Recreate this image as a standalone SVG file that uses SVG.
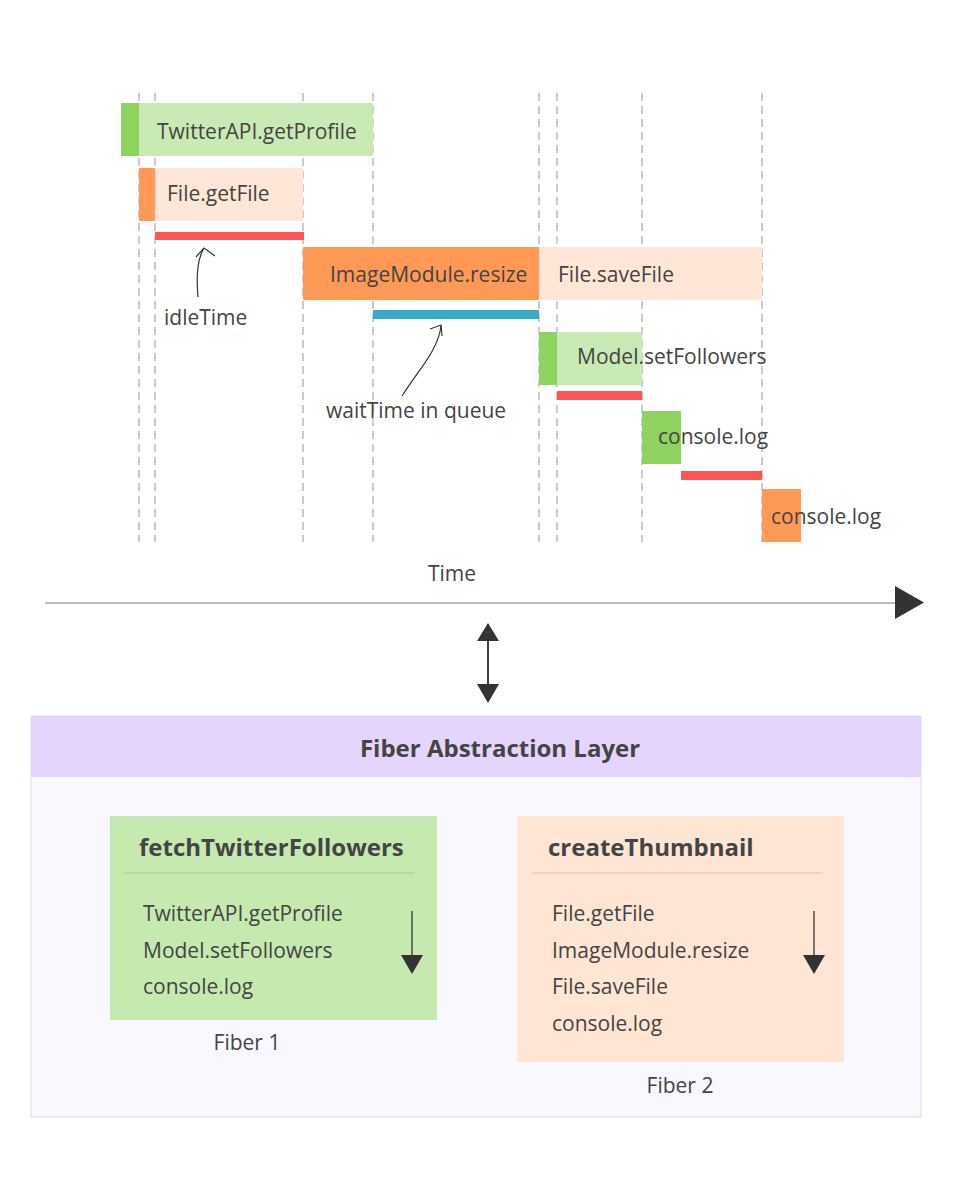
<svg xmlns="http://www.w3.org/2000/svg" width="954" height="1182" viewBox="0 0 954 1182">
<style>
text{font-family:"Open Sans","Liberation Sans",sans-serif;fill:#444;}
.t{font-size:21px;}
.b{font-weight:bold;font-size:24px;}
.dash{stroke:#aaa;stroke-width:1.2;stroke-dasharray:8 5;fill:none;}
.gd{fill:#8ed260;}.gl{fill:#c6e9b0;}.od{fill:#ff9955;}.ol{fill:#ffe5d4;}.r{fill:#ff5555;}.bl{fill:#38abc8;}
.ann{stroke:#333;stroke-width:1.2;fill:none;}
</style>
<rect width="954" height="1182" fill="#fff"/>
<g id="gridlines">
<line class="dash" x1="139" y1="93" x2="139" y2="542"/>
<line class="dash" x1="155" y1="93" x2="155" y2="542"/>
<line class="dash" x1="303" y1="93" x2="303" y2="542"/>
<line class="dash" x1="373" y1="93" x2="373" y2="542"/>
<line class="dash" x1="539" y1="93" x2="539" y2="542"/>
<line class="dash" x1="557" y1="93" x2="557" y2="542"/>
<line class="dash" x1="642" y1="93" x2="642" y2="542"/>
<line class="dash" x1="762" y1="93" x2="762" y2="542"/>
</g>
<g id="bar-getProfile">
<rect class="gl" x="139" y="103" width="234" height="53" opacity="0.95"/>
<rect class="gd" x="121" y="103" width="18" height="53"/>
<text class="t" x="157" y="139">TwitterAPI.getProfile</text>
</g>
<g id="bar-getFile">
<rect class="ol" x="155" y="168" width="148" height="53" opacity="0.95"/>
<rect class="od" x="139" y="168" width="16" height="53"/>
<text class="t" x="167" y="201">File.getFile</text>
</g>
<g id="idle1"><rect class="r" x="155" y="232" width="149" height="8"/></g>
<g id="bar-resize">
<rect class="od" x="303" y="247" width="236" height="53"/>
<text class="t" x="330" y="282">ImageModule.resize</text>
</g>
<g id="bar-saveFile">
<rect class="ol" x="539" y="247" width="223" height="53" opacity="0.95"/>
<text class="t" x="558" y="282">File.saveFile</text>
</g>
<g id="wait"><rect class="bl" x="373" y="310" width="166" height="9"/></g>
<g id="bar-setFollowers">
<rect class="gl" x="557" y="332" width="85" height="53" opacity="0.95"/>
<rect class="gd" x="539" y="332" width="18" height="53"/>
<text class="t" x="577" y="364">Model.setFollowers</text>
</g>
<g id="idle2"><rect class="r" x="557" y="391" width="85" height="9"/></g>
<g id="bar-log1">
<rect class="gd" x="642" y="411" width="39" height="53"/>
<text class="t" x="658" y="444">console.log</text>
</g>
<g id="idle3"><rect class="r" x="681" y="471" width="81" height="9"/></g>
<g id="bar-log2">
<rect class="od" x="762" y="489" width="39" height="53"/>
<text class="t" x="771" y="524">console.log</text>
</g>
<g id="annotations">
<path class="ann" d="M198,297 C196,276 198,258 204,248"/>
<path class="ann" d="M196,257 L204,248 L215,256"/>
<text class="t" x="164" y="325">idleTime</text>
<path class="ann" d="M402,396 C420,368 438,350 441,326"/>
<path class="ann" d="M430,329 L441,325 L442,336"/>
<text class="t" x="326" y="418">waitTime in queue</text>
</g>
<g id="connectors">
<line x1="45" y1="603" x2="896" y2="603" stroke="#bbb" stroke-width="2"/>
<path d="M895,586 L924,602.5 L895,619 z" fill="#333"/>
<line x1="488" y1="640" x2="488" y2="685" stroke="#444" stroke-width="2"/>
<path d="M477,641 L488,623 L499,641 z" fill="#333"/>
<path d="M477,684 L488,703 L499,684 z" fill="#333"/>
</g>
<text class="t" x="452" y="581" text-anchor="middle">Time</text>
<g id="layer">
<rect x="31" y="716" width="890" height="401" fill="#f8f8fe" stroke="#ddd" stroke-width="1"/>
<rect x="31" y="716" width="890" height="61" fill="#e5d5fd"/>
<text class="b" x="500" y="757" text-anchor="middle">Fiber Abstraction Layer</text>
</g>
<g id="fiber1">
<rect x="110" y="816" width="327" height="204" fill="#c6e9b0"/>
<text class="b" x="139" y="856">fetchTwitterFollowers</text>
<line x1="123" y1="873" x2="414" y2="873" stroke="#aac79b" stroke-width="1"/>
<text class="t" x="143" y="921">TwitterAPI.getProfile</text>
<text class="t" x="143" y="958">Model.setFollowers</text>
<text class="t" x="143" y="994">console.log</text>
<line x1="412" y1="911" x2="412" y2="958" stroke="#333" stroke-width="1.3"/>
<path d="M401,955 L423,955 L412,974 z" fill="#333"/>
<text class="t" x="247" y="1050" text-anchor="middle">Fiber 1</text>
</g>
<g id="fiber2">
<rect x="517" y="816" width="327" height="246" fill="#ffe5d4"/>
<text class="b" x="548" y="856">createThumbnail</text>
<line x1="532" y1="873" x2="823" y2="873" stroke="#d9c3b5" stroke-width="1"/>
<text class="t" x="552" y="921">File.getFile</text>
<text class="t" x="552" y="958">ImageModule.resize</text>
<text class="t" x="552" y="994">File.saveFile</text>
<text class="t" x="552" y="1031">console.log</text>
<line x1="814" y1="911" x2="814" y2="958" stroke="#333" stroke-width="1.3"/>
<path d="M803,955 L825,955 L814,974 z" fill="#333"/>
<text class="t" x="680" y="1093" text-anchor="middle">Fiber 2</text>
</g>
</svg>
